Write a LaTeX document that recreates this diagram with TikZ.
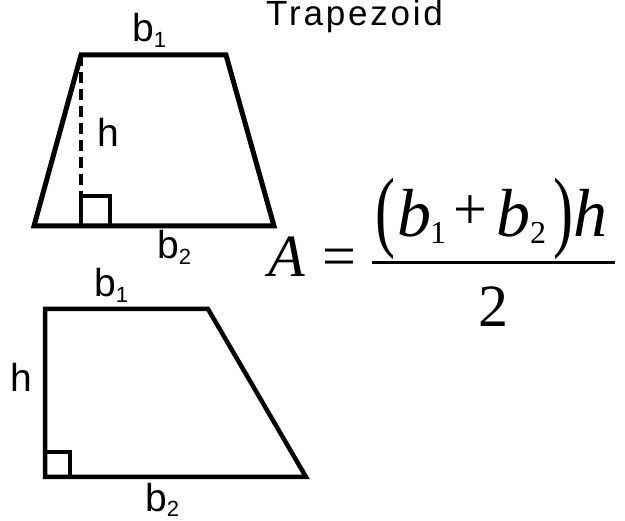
\documentclass[tikz,border=0pt]{standalone}
\usepackage{fontspec}
\setmainfont{Liberation Sans}
\newfontfamily\arialf{Liberation Sans}
\newfontfamily\titlef[LetterSpace=8]{Liberation Sans}
\newfontfamily\timesf{Liberation Serif}
\begin{document}
\begin{tikzpicture}[x=1pt,y=-1pt,
  lbl/.style={anchor=base west,inner sep=0pt,font=\arialf\fontsize{39}{39}\selectfont},
  fml/.style={anchor=base west,inner sep=0pt,font=\timesf\fontsize{60}{60}\selectfont},
  fmlbig/.style={anchor=base west,inner sep=0pt,font=\timesf\fontsize{68}{68}\selectfont},
  fmlsub/.style={anchor=base west,inner sep=0pt,font=\timesf\fontsize{32}{32}\selectfont},
  paren/.style={anchor=base west,inner sep=0pt,font=\timesf\fontsize{60}{60}\selectfont},
  edge/.style={line width=5pt},
  edgeb/.style={line width=4.5pt},
  hdash/.style={line width=4pt,dash pattern=on 11pt off 6pt},
  rsq/.style={line width=4pt}]
\useasboundingbox (0,0) rectangle (625,521);
% title
\node[anchor=base west,inner sep=0pt,font=\titlef\fontsize{35}{35}\selectfont] (title) at (266,26) {Trapezoid};
% top trapezoid
\coordinate (t1) at (34,226);
\coordinate (t2) at (81,55);
\coordinate (t3) at (226,55);
\coordinate (t4) at (274,226);
\coordinate (tf) at (81,226);
\draw[edge] (t1) -- (t2) -- (t3) -- (t4) -- cycle;
\draw[hdash] (t2) -- (tf);
\draw[rsq] (81,196) rectangle (110,226);
\node[lbl] (tb1) at (132,42) {b\fontsize{22}{22}\selectfont\raisebox{-6pt}{1}};
\node[lbl] (th) at (97,147) {h};
\node[lbl] (tb2) at (157,259) {b\fontsize{22}{22}\selectfont\raisebox{-6pt}{2}};
% bottom trapezoid
\coordinate (u1) at (45,309);
\coordinate (u2) at (208,309);
\coordinate (u3) at (306,477);
\coordinate (u4) at (45,477);
\draw[edgeb] (u1) -- (u2) -- (u3) -- (u4) -- cycle;
\draw[rsq] (45,452) rectangle (70,477);
\node[lbl] (ub1) at (94,297) {b\fontsize{22}{22}\selectfont\raisebox{-6pt}{1}};
\node[lbl] (uh) at (10,392) {h};
\node[lbl] (ub2) at (145,512) {b\fontsize{22}{22}\selectfont\raisebox{-5pt}{2}};
% formula
\node[fml] (fA) at (268,277) {\itshape A};
\node[fml] (feq) at (322,277) {=};
\draw[line width=3pt] (372,263) coordinate (barl) -- (615,263) coordinate (barr);
\node[paren] (fpl) at (375,241) {\scalebox{1}[1.5]{(}};
\node[fmlbig] (fb1) at (397,237) {\itshape b};
\node[fmlsub] (fs1) at (430,244) {1};
\node[fml] (fplus) at (453,230) {+};
\node[fmlbig] (fb2) at (496,237) {\itshape b};
\node[fmlsub] (fs2) at (530,244) {2};
\node[paren] (fpr) at (553,241) {\scalebox{1}[1.5]{)}};
\node[fmlbig] (fh) at (573,237) {\itshape h};
\node[fml,anchor=base] (fden) at (493,327) {2};
\end{tikzpicture}
\end{document}
